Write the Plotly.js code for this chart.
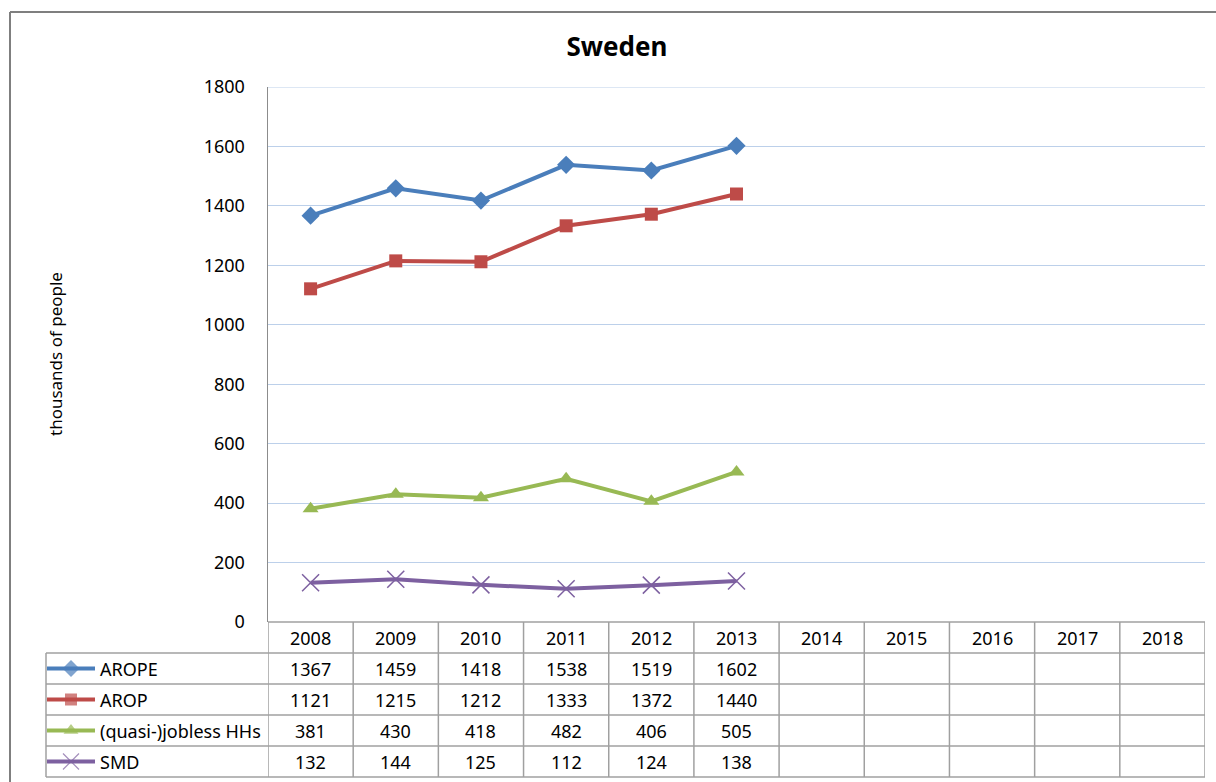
<!DOCTYPE html>
<html>
<head>
<meta charset="utf-8">
<script src="https://cdn.plot.ly/plotly-3.0.1.min.js"></script>
<style>html,body{margin:0;padding:0;background:#fff;}#chart{width:1216px;height:782px;}</style>
</head>
<body>
<div id="chart"></div>
<script>
// ---- data ----
const years = ["2008","2009","2010","2011","2012","2013","2014","2015","2016","2017","2018"];
const seriesNames = ["AROPE","AROP","(quasi-)jobless HHs","SMD"];
const arope   = [1367, 1459, 1418, 1538, 1519, 1602, null, null, null, null, null];
const arop    = [1121, 1215, 1212, 1333, 1372, 1440, null, null, null, null, null];
const jobless = [381, 430, 418, 482, 406, 505, null, null, null, null, null];
const smd     = [132, 144, 125, 112, 124, 138, null, null, null, null, null];
const yTicks  = [0, 200, 400, 600, 800, 1000, 1200, 1400, 1600, 1800];
const chartTitle = "Sweden";
const yTitle = "thousands of people";

// ---- styles ----
const seriesValues = [arope, arop, jobless, smd];
const colors = ["#4a7ebb", "#be4b48", "#98b954", "#7d60a0"];
const symbols = ["diamond", "square", "triangle-up", "x-thin-open"];
const msizes = [14, 13, 14, 17];
const FONT = "Noto Sans, DejaVu Sans, sans-serif";
const gridCol = "#bcd0ea";
const tableCol = "#a0a0a0";

// geometry (pixels)
const W = 1216, H = 782;
const mL = 46, mR = 11, mT = 87, mB = 5;
const pw = W - mL - mR, ph = H - mT - mB;
const plotLeftPx = 268, axisBottomPx = 622, rowH = 31;
const px2x = p => (p - mL) / pw;
const py2y = p => (H - mB - p) / ph;
const xDomLo = px2x(plotLeftPx);
const yDomLo = py2y(axisBottomPx);
const bodyTopPx = axisBottomPx + rowH; // 653
const yMax = yTicks[yTicks.length - 1];

const traces = [];
seriesValues.forEach((vals, i) => {
  traces.push({
    type: "scatter", mode: "lines+markers", name: seriesNames[i],
    x: years, y: vals, xaxis: "x", yaxis: "y",
    line: {color: colors[i], width: 4},
    marker: {symbol: symbols[i], size: msizes[i], color: colors[i],
             line: {color: colors[i], width: i === 3 ? 1.5 : 0}},
    connectgaps: false, showlegend: false, hoverinfo: "x+y"
  });
  // legend sample in the table's first column
  const yc = seriesNames.length - 0.5 - i;
  traces.push({
    type: "scatter", mode: "lines+markers",
    x: [1, 25, 49], y: [yc, yc, yc], xaxis: "x2", yaxis: "y2",
    line: {color: colors[i], width: 4},
    marker: {symbol: symbols[i], size: [0, msizes[i] - 1, 0], color: colors[i],
             line: {color: colors[i], width: i === 3 ? 1.2 : 0}},
    showlegend: false, hoverinfo: "skip"
  });
});

const shapes = [];
const annotations = [];
const line = (x0, y0, x1, y1, xref, yref, col, w, layer) =>
  shapes.push({type: "line", x0, y0, x1, y1, xref, yref, layer: layer || "above",
               line: {color: col, width: w}});

// top gridline (at the edge of the axis range)
line(xDomLo, yMax, 1, yMax, "paper", "y", gridCol, 1, "below");

// table horizontal lines
line(xDomLo, yDomLo, 1, yDomLo, "paper", "paper", tableCol, 1.5);
for (let r = 1; r <= seriesNames.length + 1; r++) {
  const yy = py2y(axisBottomPx + r * rowH);
  line(0, yy, 1, yy, "paper", "paper", tableCol, 1.5);
}
const tableBottom = py2y(axisBottomPx + (seriesNames.length + 1) * rowH);
// table vertical lines at category boundaries
for (let k = 0; k <= years.length; k++) {
  line(k - 0.5, tableBottom, k - 0.5, yDomLo, "x", "paper", tableCol, 1.5);
}
line(0, tableBottom, 0, py2y(bodyTopPx), "paper", "paper", tableCol, 1.5);

// outer chart border (top & left)
line(px2x(10), py2y(12), px2x(10), py2y(800), "paper", "paper", "#7f7f7f", 2);
line(px2x(10), py2y(12), px2x(1230), py2y(12), "paper", "paper", "#7f7f7f", 2);

const txtFont = {family: FONT, size: 18, color: "#000"};
// header year labels (category axis: use category index)
years.forEach((yr, k) => {
  annotations.push({x: k, xref: "x", y: py2y(axisBottomPx + rowH / 2), yref: "paper",
    text: yr, showarrow: false, xanchor: "center", yanchor: "middle", font: txtFont});
});
// values and series names
seriesValues.forEach((vals, i) => {
  const yc = py2y(bodyTopPx + rowH * i + rowH / 2);
  annotations.push({x: px2x(98), xref: "paper", y: yc, yref: "paper",
    text: seriesNames[i], showarrow: false, xanchor: "left", yanchor: "middle", font: txtFont});
  vals.forEach((v, k) => {
    if (v === null) return;
    annotations.push({x: k, xref: "x", y: yc, yref: "paper",
      text: String(v), showarrow: false, xanchor: "center", yanchor: "middle", font: txtFont});
  });
});
// y-axis title
annotations.push({x: px2x(55), xref: "paper", y: py2y(354), yref: "paper",
  text: yTitle, textangle: -90, showarrow: false, xanchor: "center", yanchor: "middle",
  font: {family: FONT, size: 17, color: "#000"}});

const layout = {
  width: W, height: H,
  margin: {l: mL, r: mR, t: mT, b: mB, pad: 0},
  paper_bgcolor: "#fff", plot_bgcolor: "#fff",
  title: {text: "<b>" + chartTitle + "</b>", xref: "container", yref: "container",
          x: 617 / W, y: 1 - 47 / H, xanchor: "center", yanchor: "middle",
          font: {family: FONT, size: 26, color: "#000"}},
  xaxis: {type: "category", domain: [xDomLo, 1], range: [-0.5, years.length - 0.5],
          showgrid: false, showticklabels: false, ticks: "", zeroline: false,
          showline: false, fixedrange: true, categoryorder: "array", categoryarray: years},
  yaxis: {domain: [yDomLo, 1], range: [0, yMax], tickvals: yTicks,
          showgrid: true, gridcolor: gridCol, gridwidth: 1, zeroline: false,
          showline: true, linecolor: "#8c8c8c", linewidth: 1.5,
          ticks: "", ticklabelstandoff: 18,
          tickfont: txtFont, fixedrange: true},
  xaxis2: {domain: [0, xDomLo], range: [0, plotLeftPx - mL], visible: false,
           anchor: "y2", fixedrange: true},
  yaxis2: {domain: [0, py2y(bodyTopPx)], range: [0, seriesNames.length], visible: false,
           anchor: "x2", fixedrange: true},
  shapes: shapes,
  annotations: annotations,
  showlegend: false
};

Plotly.newPlot("chart", traces, layout, {displayModeBar: false, staticPlot: true});
</script>
</body>
</html>
